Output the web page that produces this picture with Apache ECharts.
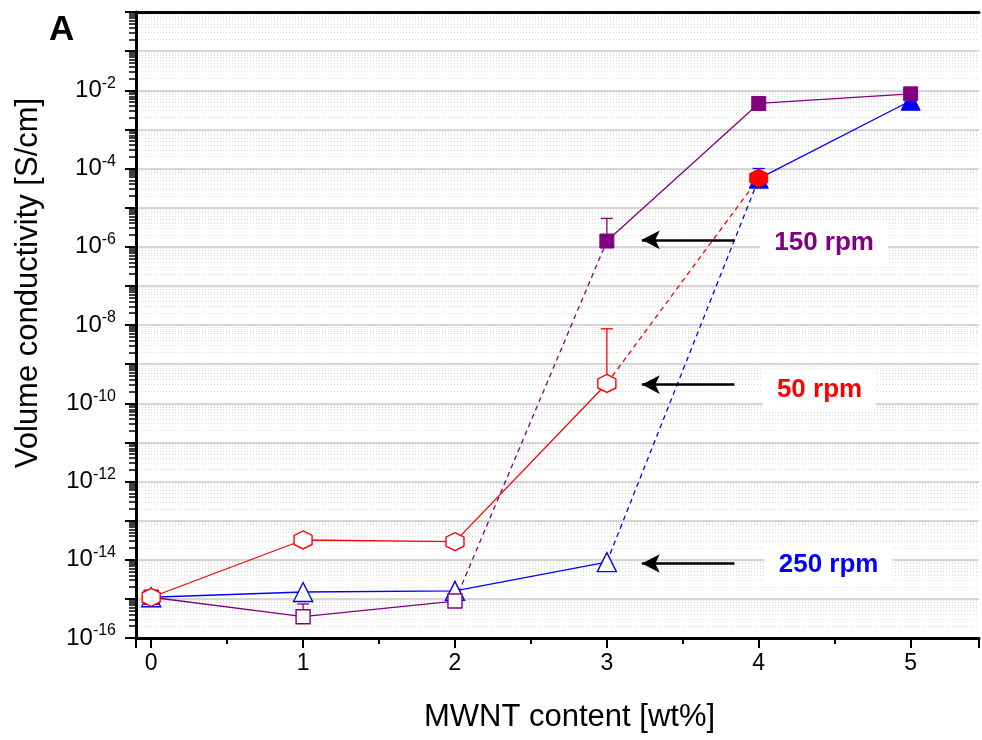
<!DOCTYPE html>
<html>
<head>
<meta charset="utf-8">
<script src="https://cdn.jsdelivr.net/npm/echarts@6/dist/echarts.min.js"></script>
<style>html,body{margin:0;padding:0;background:#fff}#container{width:982px;height:740px}</style>
</head>
<body>
<div id="container"></div>
<script>
// MWNT content [wt%]
var content = [0, 1, 2, 3, 4, 5];
// volume conductivity [S/cm]
var rpm150 = [1.1e-15, 3.5e-16, 8.8e-16, 1.4e-6, 4.6e-3, 8.1e-3];
var rpm50 = [1.1e-15, 3.2e-14, 2.9e-14, 3.2e-10, 5.7e-5];
var rpm250 = [1.1e-15, 1.5e-15, 1.6e-15, 8.7e-15, 5.5e-5, 5.4e-3];
// upper ends of error bars (null = none)
var rpm150Err = [null, 7.4e-16, null, 5.3e-6, null, null];
var rpm50Err = [null, null, null, 8e-9, null];
var rpm250Err = [null, null, null, null, 1e-4, null];
// index after which the dashed jump starts
var breaks = {p150: 2, p50: 3, p250: 3};
// annotation: arrow y, label text
var arrowY = [1.5e-6, 3e-10, 8e-15];
var labelY = [1.25e-6, 2.2e-10, 7.4e-15];
var labelX = [4.43, 4.40, 4.46];
var labelText = ['150 rpm', '50 rpm', '250 rpm'];

var axisFont = '"Liberation Sans Narrow", "Liberation Sans", Arial, sans-serif';
var hexagon = 'path://M0,-1L0.866,-0.5L0.866,0.5L0,1L-0.866,0.5L-0.866,-0.5Z';

function pts(vals, from, to) {
    var out = [];
    for (var i = from; i <= to && i < vals.length; i++) out.push([content[i], vals[i]]);
    return out;
}

function errSeries(vals, errs, color) {
    var d = [];
    errs.forEach(function (e, i) { if (e != null) d.push([content[i], vals[i], e]); });
    return {
        type: 'custom', silent: true, z: 1,
        data: d,
        renderItem: function (params, api) {
            var p = api.coord([api.value(0), api.value(1)]);
            var h = api.coord([api.value(0), api.value(2)]);
            var st = {stroke: color, lineWidth: 1.3};
            return {type: 'group', children: [
                {type: 'line', shape: {x1: p[0], y1: p[1], x2: h[0], y2: h[1]}, style: st},
                {type: 'line', shape: {x1: h[0] - 6, y1: h[1], x2: h[0] + 6, y2: h[1]}, style: st}
            ]};
        }
    };
}

function group(vals, brk, color, symbol, size, k) {
    var lw = 1.3;
    return [
        {
            type: 'line', data: pts(vals, 0, brk), symbol: symbol, symbolSize: size,
            lineStyle: {color: color, width: lw}, z: 3,
            itemStyle: {color: '#fff', borderColor: color, borderWidth: 1.4},
            markLine: {
                silent: true, symbol: ['none', 'arrow'], symbolSize: [14, 18],
                label: {show: false},
                lineStyle: {color: '#000', width: 2.5, type: 'solid'},
                data: [[{coord: [3.84, arrowY[k]]}, {coord: [3.23, arrowY[k]]}]]
            },
            markPoint: {
                silent: true, symbol: 'rect', symbolSize: 1,
                itemStyle: {color: 'rgba(0,0,0,0)'},
                label: {
                    show: true, position: 'inside', formatter: labelText[k],
                    color: color, fontSize: 26, fontWeight: 'bold',
                    fontFamily: '"Liberation Sans", Arial, sans-serif',
                    backgroundColor: '#fff', padding: [8, 14]
                },
                data: [{coord: [labelX[k], labelY[k]]}]
            }
        },
        {
            type: 'line', data: pts(vals, brk, brk + 1), showSymbol: false, z: 2,
            lineStyle: {color: color, width: lw, type: [5, 4]}
        },
        {
            type: 'line', data: pts(vals, brk + 1, vals.length - 1), symbol: symbol, symbolSize: size,
            lineStyle: {color: color, width: lw}, z: 3,
            itemStyle: {color: color, borderColor: color, borderWidth: 1}
        }
    ];
}

var chart = echarts.init(document.getElementById('container'));

var series = [].concat(
    errSeries(rpm250, rpm250Err, '#0000ff'),
    errSeries(rpm150, rpm150Err, '#800080'),
    errSeries(rpm50, rpm50Err, '#ff0000'),
    group(rpm250, breaks.p250, '#0000ff', 'triangle', 19, 2),
    group(rpm150, breaks.p150, '#800080', 'rect', 14, 0),
    group(rpm50, breaks.p50, '#ff0000', hexagon, 18, 1)
);

var option = {
    animation: false,
    backgroundColor: '#fff',
    title: {
        text: 'A', left: 44, top: 8,
        textStyle: {fontSize: 35, fontWeight: 'bold', color: '#000', fontFamily: '"Liberation Sans", Arial, sans-serif'}
    },
    grid: {left: 136, right: 0, top: 12, bottom: 102},
    xAxis: [{
        type: 'value', min: -0.1, max: 5.45, splitNumber: 5,
        name: 'MWNT content [wt%]', nameLocation: 'middle', nameGap: 64,
        nameTextStyle: {fontSize: 31, color: '#000', fontFamily: axisFont, padding: [0, 0, 0, 24]},
        axisLine: {onZero: false, lineStyle: {color: '#000', width: 3}},
        axisTick: {inside: false, length: 10, lineStyle: {color: '#000', width: 2}},
        minorTick: {show: true, splitNumber: 2, length: 6, lineStyle: {color: '#000', width: 2}},
        axisLabel: {
            margin: 14, fontSize: 23, color: '#000', fontFamily: axisFont,
            formatter: function (v) { return Math.abs(v - Math.round(v)) < 1e-9 ? String(Math.round(v)) : ''; }
        },
        splitLine: {show: false}
    }, {
        type: 'value', position: 'top', min: -0.1, max: 5.45,
        axisLine: {onZero: false, lineStyle: {color: '#000', width: 3}},
        axisTick: {show: false}, axisLabel: {show: false}, splitLine: {show: false}
    }],
    yAxis: {
        type: 'log', logBase: 10, min: 1e-16, max: 1, interval: 1, minInterval: 1, maxInterval: 1, splitNumber: 16,
        name: 'Volume conductivity [S/cm]', nameLocation: 'middle', nameGap: 92,
        nameTextStyle: {fontSize: 31, color: '#000', fontFamily: axisFont, padding: [0, 0, 0, 84]},
        axisLine: {show: true, onZero: false, lineStyle: {color: '#000', width: 3}},
        axisTick: {inside: false, length: 11, lineStyle: {color: '#000', width: 2}},
        minorTick: {show: true, splitNumber: 9, length: 7, lineStyle: {color: '#000', width: 1.5}},
        axisLabel: {
            margin: 20, fontSize: 24, color: '#000', fontFamily: axisFont,
            formatter: function (v) {
                var e = Math.round(Math.log10(v));
                if (e % 2 !== 0 || e === 0) return '';
                return '10{sup|' + e + '}';
            },
            rich: {sup: {fontSize: 16, fontFamily: axisFont, color: '#000', padding: [0, 0, 14, 0]}}
        },
        splitLine: {show: true, lineStyle: {color: '#c8c8c8', width: 1.5}},
        minorSplitLine: {show: true, lineStyle: {color: '#d9d9d9', width: 1, type: [1, 2]}}
    },
    series: series
};

chart.setOption(option);
</script>
</body>
</html>
